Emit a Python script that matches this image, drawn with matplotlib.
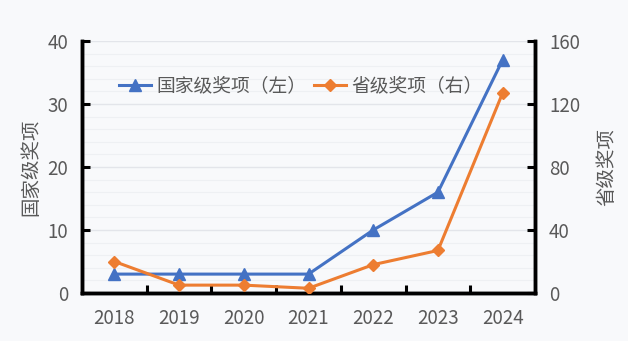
import matplotlib
matplotlib.use("Agg")
import matplotlib.pyplot as plt
from matplotlib.ticker import MultipleLocator, FixedLocator

plt.rcParams['font.family'] = ['Noto Sans CJK SC', 'DejaVu Sans']

years = ['2018', '2019', '2020', '2021', '2022', '2023', '2024']
national = [3, 3, 3, 3, 10, 16, 37]
provincial = [20, 5, 5, 3, 18, 27, 127]

bg = '#f8f9fb'
blue = '#4472C4'
orange = '#ED7D31'
gray = '#595959'

fig = plt.figure(figsize=(6.28, 3.41), dpi=100, facecolor=bg)
ax = fig.add_axes([82/628, 1-293/341, (535-82)/628, (293-41)/341])
ax.set_facecolor(bg)
ax2 = ax.twinx()

x = list(range(len(years)))
l1, = ax.plot(x, national, color=blue, lw=2.2, marker='^', ms=8, label='国家级奖项（左）', zorder=3)
l2, = ax2.plot(x, provincial, color=orange, lw=2.2, marker='D', ms=6, label='省级奖项（右）', zorder=3)

ax.set_xlim(-0.5, 6.5)
ax.set_ylim(0, 40)
ax2.set_ylim(0, 160)
ax.yaxis.set_major_locator(MultipleLocator(10))
ax.yaxis.set_minor_locator(MultipleLocator(2))
ax2.yaxis.set_major_locator(MultipleLocator(40))

fs = 13.5
ax.set_xticks(x)
ax.set_xticklabels(years)
ax.xaxis.set_minor_locator(FixedLocator([i + 0.5 for i in range(6)]))
ax.tick_params(axis='x', which='major', length=0, pad=11, labelsize=fs, labelcolor=gray)
ax.tick_params(axis='x', which='minor', direction='in', length=6, width=2.2, color='black')
ax.tick_params(axis='y', which='major', direction='in', length=6, width=2.2, color='black', labelsize=fs, labelcolor=gray, pad=10)
ax.tick_params(axis='y', which='minor', length=0)
ax2.tick_params(axis='y', which='major', direction='in', length=6, width=2.2, color='black', labelsize=fs, labelcolor=gray, pad=10)

ax.grid(True, which='major', axis='y', color='#e3e5ea', lw=1)
ax.grid(True, which='minor', axis='y', color='#eef0f3', lw=0.8)
ax.set_axisbelow(True)

for a in (ax, ax2):
    a.spines['top'].set_visible(False)
    for s in ('left', 'right', 'bottom'):
        a.spines[s].set_linewidth(2.5)
        a.spines[s].set_color('black')

ax.set_ylabel('国家级奖项', fontsize=14, color=gray, labelpad=4)
ax2.set_ylabel('省级奖项', fontsize=14, color=gray, labelpad=12)

ax.legend(handles=[l1, l2], loc='upper left', bbox_to_anchor=(0.045, 0.93), ncol=2,
          frameon=False, fontsize=13.5, labelcolor=gray, handlelength=1.7, columnspacing=0.4,
          handletextpad=0.3)

fig.savefig('out.png', dpi=100, facecolor=bg)
